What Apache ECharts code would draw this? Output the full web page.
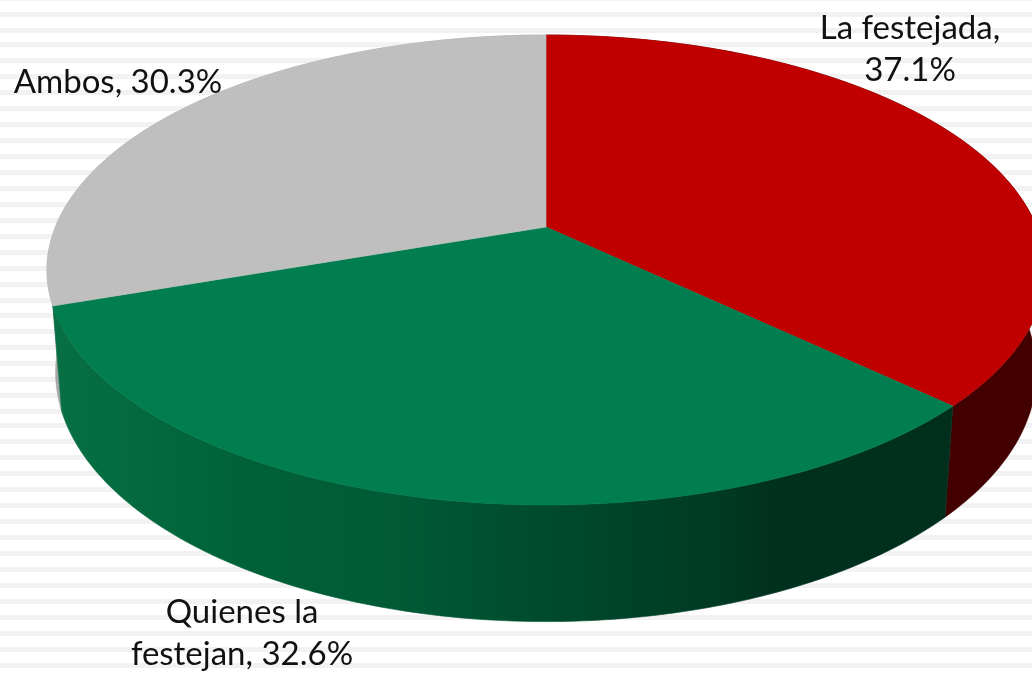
<!DOCTYPE html>
<html>
<head>
<meta charset="utf-8">
<title>Pie</title>
<script src="https://cdn.jsdelivr.net/npm/echarts@6/dist/echarts.min.js"></script>
<style>
  html, body { margin: 0; padding: 0; }
  #main { width: 1032px; height: 673px; background-color: #fff; }
</style>
</head>
<body>
<div id="main"></div>
<script>
var categories = ['La festejada', 'Quienes la\nfestejan', 'Ambos'];
var values = [37.1, 32.6, 30.3];
var separators = [',\n', ', ', ', '];

var topColors = ['#c00000', '#007e4f', '#bfbfbf'];
var wallColors = [
  [[0, '#420000'], [1, '#420000']],
  [[0, '#076f43'], [0.213, '#006138'], [0.382, '#005a36'], [0.546, '#004a2d'], [0.742, '#003a24'], [0.798, '#00311e'], [1, '#002f1d']],
  [[0, '#a8a8a8'], [1, '#a8a8a8']]
];
var labelPos = [[910, 49], [242, 633], [118, 82]];

// the stripes behind the chart drift a little: [first y, last y] runs, 16px apart
var stripeRuns = [[-4, -4], [12, 28], [42, 298], [313, 409], [423, 663]];
function paintStripes() {
  var stops = [];
  stripeRuns.forEach(function (run) {
    for (var y = run[0]; y <= run[1]; y += 16) {
      stops.push('#fff ' + y + 'px', '#f2f2f2 ' + y + 'px', '#f2f2f2 ' + (y + 5) + 'px', '#fff ' + (y + 5) + 'px');
    }
  });
  document.getElementById('main').style.backgroundImage = 'linear-gradient(to bottom, ' + stops.join(', ') + ')';
}

// perspective of the tilted disc, worked out from the picture
var cx = 546, cy = 227, A = 490.6, B = 227.1, C = 102, K = 0.183, M = 0.017;

function project(deg, h) {
  var r = deg * Math.PI / 180;
  var u = Math.sin(r), v = -Math.cos(r);
  var w = 1 - K * v + M * h;
  return [cx + A * u / w, cy + (B * v + C * h) / w];
}
function sliceAngles(idx) {
  var total = 0, before = 0;
  for (var i = 0; i < values.length; i++) {
    total += values[i];
    if (i < idx) before += values[i];
  }
  return [before / total * 360, (before + values[idx]) / total * 360];
}
function arcPoints(a0, a1, h) {
  var pts = [], n = Math.ceil(Math.abs(a1 - a0));
  for (var i = 0; i <= n; i++) pts.push(project(a0 + (a1 - a0) * i / n, h));
  return pts;
}

function renderWall(params, api) {
  var i = params.dataIndex, a = sliceAngles(i);
  var pts = arcPoints(a[0], a[1], 0).concat(arcPoints(a[1], a[0], 1));
  var grad = new echarts.graphic.LinearGradient(60, 0, 950, 0, wallColors[i].map(function (s) {
    return { offset: s[0], color: s[1] };
  }), true);
  return {
    type: 'polygon',
    z2: i == 1 ? 2 : 1,
    shape: { points: pts },
    style: { fill: grad, stroke: grad, lineWidth: 0.6 }
  };
}
function renderTop(params, api) {
  var i = params.dataIndex, a = sliceAngles(i);
  var pts = [[cx, cy]].concat(arcPoints(a[0], a[1], 0));
  return {
    type: 'group',
    children: [{
      type: 'polygon',
      shape: { points: pts },
      style: { fill: topColors[i], stroke: topColors[i], lineWidth: 0.6 }
    }, {
      type: 'text',
      z2: 10,
      style: {
        x: labelPos[i][0],
        y: labelPos[i][1],
        text: categories[i] + separators[i] + api.value(0).toFixed(1) + '%',
        font: '33px Lato',
        lineHeight: 42,
        align: 'center',
        verticalAlign: 'middle',
        fill: '#111'
      }
    }]
  };
}

paintStripes();
var myChart = echarts.init(document.getElementById('main'), null, { renderer: 'canvas' });
var option = {
  animation: false,
  series: [
    { type: 'custom', coordinateSystem: 'none', renderItem: renderWall, data: values, z: 1, silent: true },
    { type: 'custom', coordinateSystem: 'none', renderItem: renderTop, data: values, z: 2, silent: true }
  ]
};
myChart.setOption(option);
</script>
</body>
</html>
